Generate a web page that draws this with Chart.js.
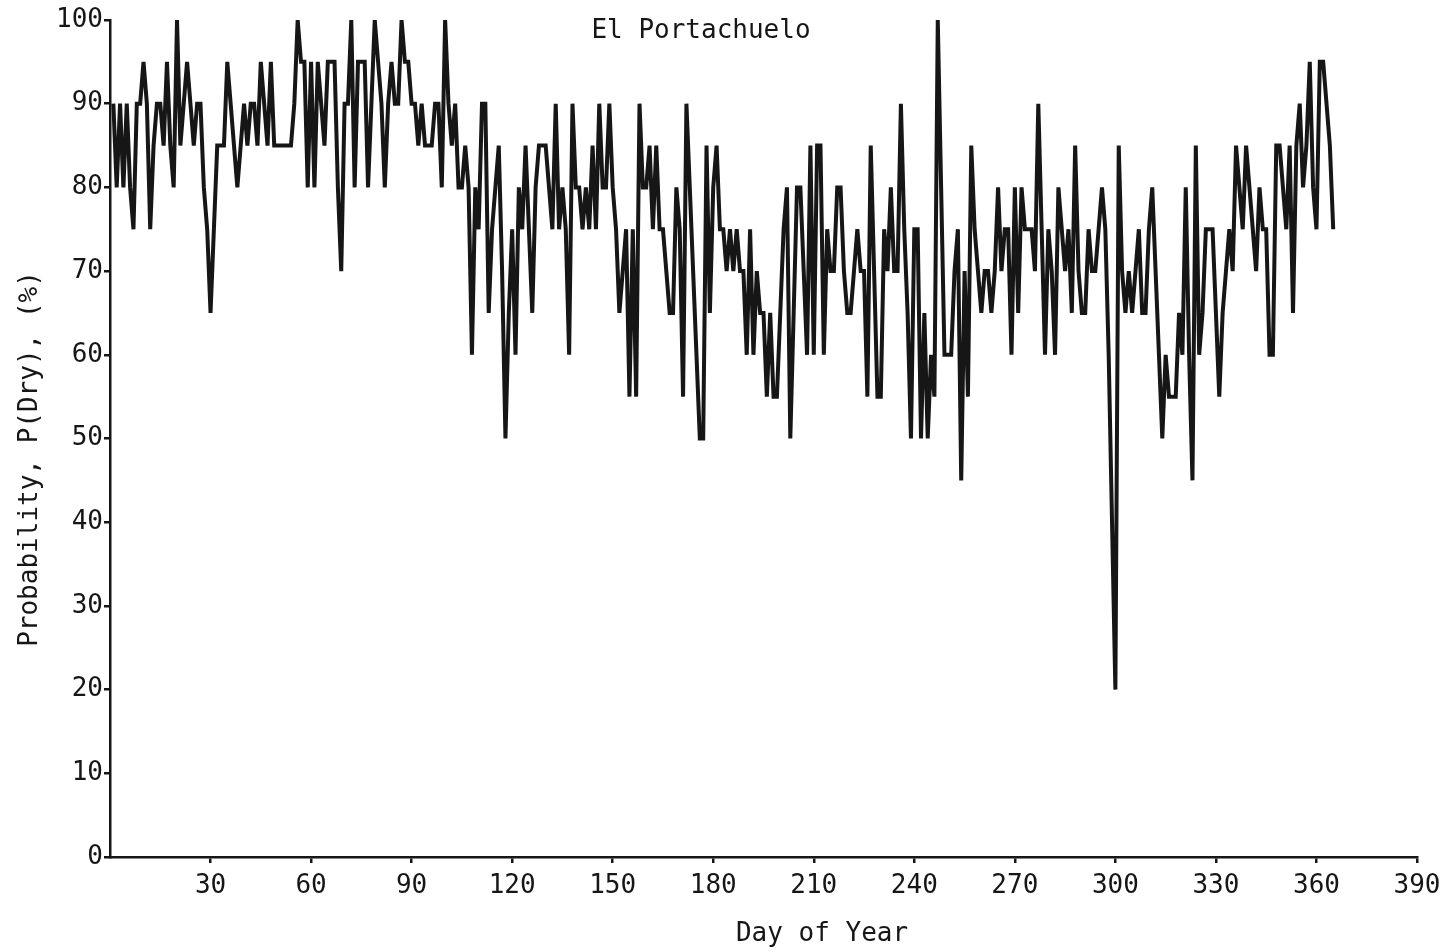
<!DOCTYPE html>
<html>
<head>
<meta charset="utf-8">
<script src="https://cdn.jsdelivr.net/npm/chart.js@4.4.1/dist/chart.umd.min.js"></script>
<style>
  html, body { margin: 0; padding: 0; background: #fff; }
</style>
</head>
<body>
<canvas id="chart" width="1440" height="952"></canvas>
<script>
// P(Dry) by day of year (days 1-365)
const dryJanMar = [
  90, 80, 90, 80, 90, 80, 75, 90, 90, 95,
  90, 75, 85, 90, 90, 85, 95, 85, 80, 100,
  85, 90, 95, 90, 85, 90, 90, 80, 75, 65,
  75, 85, 85, 85, 95, 90, 85, 80, 85, 90,
  85, 90, 90, 85, 95, 90, 85, 95, 85, 85,
  85, 85, 85, 85, 90, 100, 95, 95, 80, 95,
  80, 95, 90, 85, 95, 95, 95, 80, 70, 90,
  90, 100, 80, 95, 95, 95, 80, 90, 100, 95,
  90, 80, 90, 95, 90, 90, 100, 95, 95, 90
];
const dryAprJun = [
  90, 85, 90, 85, 85, 85, 90, 90, 80, 100,
  90, 85, 90, 80, 80, 85, 80, 60, 80, 75,
  90, 90, 65, 75, 80, 85, 70, 50, 65, 75,
  60, 80, 75, 85, 75, 65, 80, 85, 85, 85,
  80, 75, 90, 75, 80, 75, 60, 90, 80, 80,
  75, 80, 75, 85, 75, 90, 80, 80, 90, 80,
  75, 65, 70, 75, 55, 75, 55, 90, 80, 80,
  85, 75, 85, 75, 75, 70, 65, 65, 80, 75,
  55, 90, 80, 70, 60, 50, 50, 85, 65, 80
];
const dryJulSep = [
  85, 75, 75, 70, 75, 70, 75, 70, 70, 60,
  75, 60, 70, 65, 65, 55, 65, 55, 55, 65,
  75, 80, 50, 65, 80, 80, 70, 60, 85, 60,
  85, 85, 60, 75, 70, 70, 80, 80, 70, 65,
  65, 70, 75, 70, 70, 55, 85, 70, 55, 55,
  75, 70, 80, 70, 70, 90, 75, 65, 50, 75,
  75, 50, 65, 50, 60, 55, 100, 80, 60, 60,
  60, 70, 75, 45, 70, 55, 85, 75, 70, 65,
  70, 70, 65, 70, 80, 70, 75, 75, 60, 80
];
const dryOctDec = [
  65, 80, 75, 75, 75, 70, 90, 75, 60, 75,
  70, 60, 80, 75, 70, 75, 65, 85, 70, 65,
  65, 75, 70, 70, 75, 80, 75, 60, 40, 20,
  85, 70, 65, 70, 65, 70, 75, 65, 65, 75,
  80, 70, 60, 50, 60, 55, 55, 55, 65, 60,
  80, 60, 45, 85, 60, 65, 75, 75, 75, 65,
  55, 65, 70, 75, 70, 85, 80, 75, 85, 80,
  75, 70, 80, 75, 75, 60, 60, 85, 85, 80,
  75, 85, 65, 85, 90, 80, 85, 95, 80, 75,
  95, 95, 90, 85, 75
];

const pDry = [...dryJanMar, ...dryAprJun, ...dryJulSep, ...dryOctDec];
const days = pDry.map((v, i) => i + 1);

const xTicks = [30, 60, 90, 120, 150, 180, 210, 240, 270, 300, 330, 360, 390];
const yTicks = [0, 10, 20, 30, 40, 50, 60, 70, 80, 90, 100];

const FONT = "'DejaVu Sans Mono', 'Liberation Mono', monospace";
const INK = '#161616';

// titles drawn by hand so they sit where the original typed them
const textPlugin = {
  id: 'typedText',
  afterDraw(chart) {
    const ctx = chart.ctx;
    ctx.save();
    ctx.fillStyle = INK;
    ctx.font = '26px ' + FONT;
    ctx.textAlign = 'center';
    ctx.textBaseline = 'middle';
    ctx.fillText('El Portachuelo', 701, 31);
    ctx.fillText('Day of Year', 822, 934);
    ctx.translate(30, 459);
    ctx.rotate(-Math.PI / 2);
    ctx.fillText('Probability, P(Dry), (%)', 0, 0);
    ctx.restore();
  }
};

new Chart(document.getElementById('chart'), {
  type: 'line',
  data: {
    datasets: [{
      data: days.map((d, i) => ({ x: d, y: pDry[i] })),
      borderColor: INK,
      borderWidth: 4,
      pointRadius: 0,
      tension: 0,
      fill: false
    }]
  },
  options: {
    responsive: false,
    animation: false,
    layout: { padding: { top: 20, right: 23, left: 0, bottom: 0 } },
    plugins: { legend: { display: false }, tooltip: { enabled: false }, title: { display: false } },
    scales: {
      x: {
        type: 'linear',
        min: 0,
        max: 390,
        afterFit: s => { s.height = 95; s.paddingRight = 0; s.paddingLeft = 0; },
        afterBuildTicks: s => { s.ticks = xTicks.map(v => ({ value: v })); },
        border: { color: INK, width: 2.5 },
        grid: { drawOnChartArea: false, color: INK, lineWidth: 2.5, tickLength: 6 },
        ticks: { color: INK, font: { family: FONT, size: 26 }, padding: 8, maxRotation: 0 }
      },
      y: {
        min: 0,
        max: 100,
        afterFit: s => { s.width = 110; },
        afterBuildTicks: s => { s.ticks = yTicks.map(v => ({ value: v })); },
        border: { color: INK, width: 2.5 },
        grid: { drawOnChartArea: false, color: INK, lineWidth: 2.5, tickLength: 6 },
        ticks: { color: INK, font: { family: FONT, size: 26 }, padding: 1 }
      }
    }
  },
  plugins: [textPlugin]
});
</script>
</body>
</html>
